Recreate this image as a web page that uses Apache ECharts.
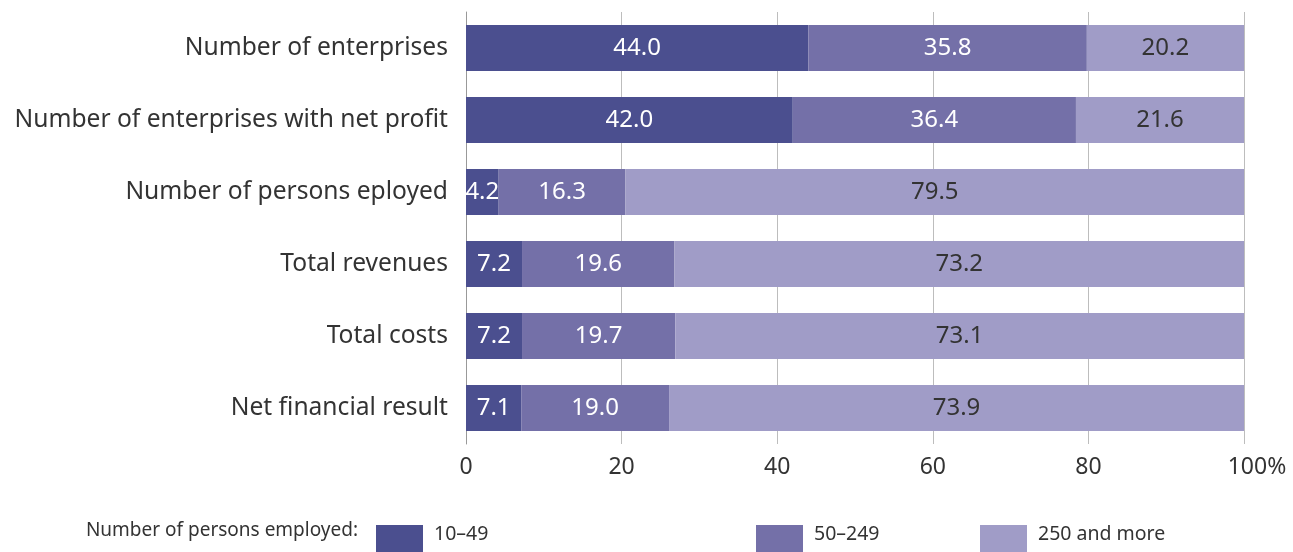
<!DOCTYPE html>
<html>
<head>
<meta charset="utf-8">
<script src="https://cdn.jsdelivr.net/npm/echarts@6/dist/echarts.min.js"></script>
<style>
  html, body { margin: 0; padding: 0; background: #fff; }
  #main { width: 1293px; height: 552px; }
</style>
</head>
<body>
<div id="main"></div>
<script>
// data
const categories = [
  'Number of enterprises',
  'Number of enterprises with net profit',
  'Number of persons eployed',
  'Total revenues',
  'Total costs',
  'Net financial result'
];
const small = [44.0, 42.0, 4.2, 7.2, 7.2, 7.1];
const medium = [35.8, 36.4, 16.3, 19.6, 19.7, 19.0];
const large = [20.2, 21.6, 79.5, 73.2, 73.1, 73.9];
const seriesNames = ['10–49', '50–249', '250 and more'];
const colors = ['#4b4f8f', '#7470a8', '#a09cc7'];

const font = '"Noto Sans", "Open Sans", sans-serif';

function bar(name, data, color, textColor) {
  return {
    name: name,
    type: 'bar',
    stack: 'total',
    barCategoryGap: '36%',
    data: data,
    itemStyle: { color: color },
    label: {
      show: true,
      position: 'inside',
      color: textColor,
      fontFamily: font,
      fontSize: 24,
      formatter: p => p.value.toFixed(1)
    },
    emphasis: { disabled: true }
  };
}

function legendAt(left, name) {
  return {
    left: left,
    top: 524,
    padding: 0,
    data: [name],
    icon: 'rect',
    itemWidth: 47,
    itemHeight: 30,
    itemGap: 0,
    formatter: '{t|{name}}',
    textStyle: {
      rich: {
        t: { fontFamily: font, fontSize: 19.5, lineHeight: 18, color: '#333', padding: [0, 0, 12, 6] }
      }
    },
    selectedMode: false
  };
}

let myChart = echarts.init(document.getElementById('main'));
let option = {
  animation: false,
  grid: { left: 466, right: 49, top: 12, bottom: 108 },
  xAxis: {
    type: 'value',
    min: 0,
    max: 100,
    interval: 20,
    axisLine: { show: false },
    axisTick: { show: false },
    splitLine: { lineStyle: { color: '#bdbdbd', width: 1 } },
    axisLabel: {
      margin: 12,
      fontFamily: font,
      fontSize: 23,
      color: '#333',
      formatter: v => v === 100 ? '{p|100%}' : String(v),
      rich: {
        p: { fontFamily: font, fontSize: 23, color: '#333', padding: [0, 0, 0, 26] }
      }
    }
  },
  yAxis: {
    type: 'category',
    inverse: true,
    data: categories,
    axisLine: { show: true, lineStyle: { color: '#999', width: 1 } },
    axisTick: { show: false },
    axisLabel: {
      margin: 18,
      fontFamily: font,
      fontSize: 24.6,
      color: '#333',
      padding: [0, 0, 6, 0]
    }
  },
  legend: [
    legendAt(376, seriesNames[0]),
    legendAt(756, seriesNames[1]),
    legendAt(980, seriesNames[2])
  ],
  graphic: [{
    type: 'text',
    right: 1293 - 358,
    top: 521,
    style: {
      text: 'Number of persons employed:',
      fontFamily: font,
      fontSize: 19,
      fill: '#333'
    }
  }],
  series: [
    bar(seriesNames[0], small, colors[0], '#fff'),
    bar(seriesNames[1], medium, colors[1], '#fff'),
    bar(seriesNames[2], large, colors[2], '#333')
  ]
};
myChart.setOption(option);
</script>
</body>
</html>
